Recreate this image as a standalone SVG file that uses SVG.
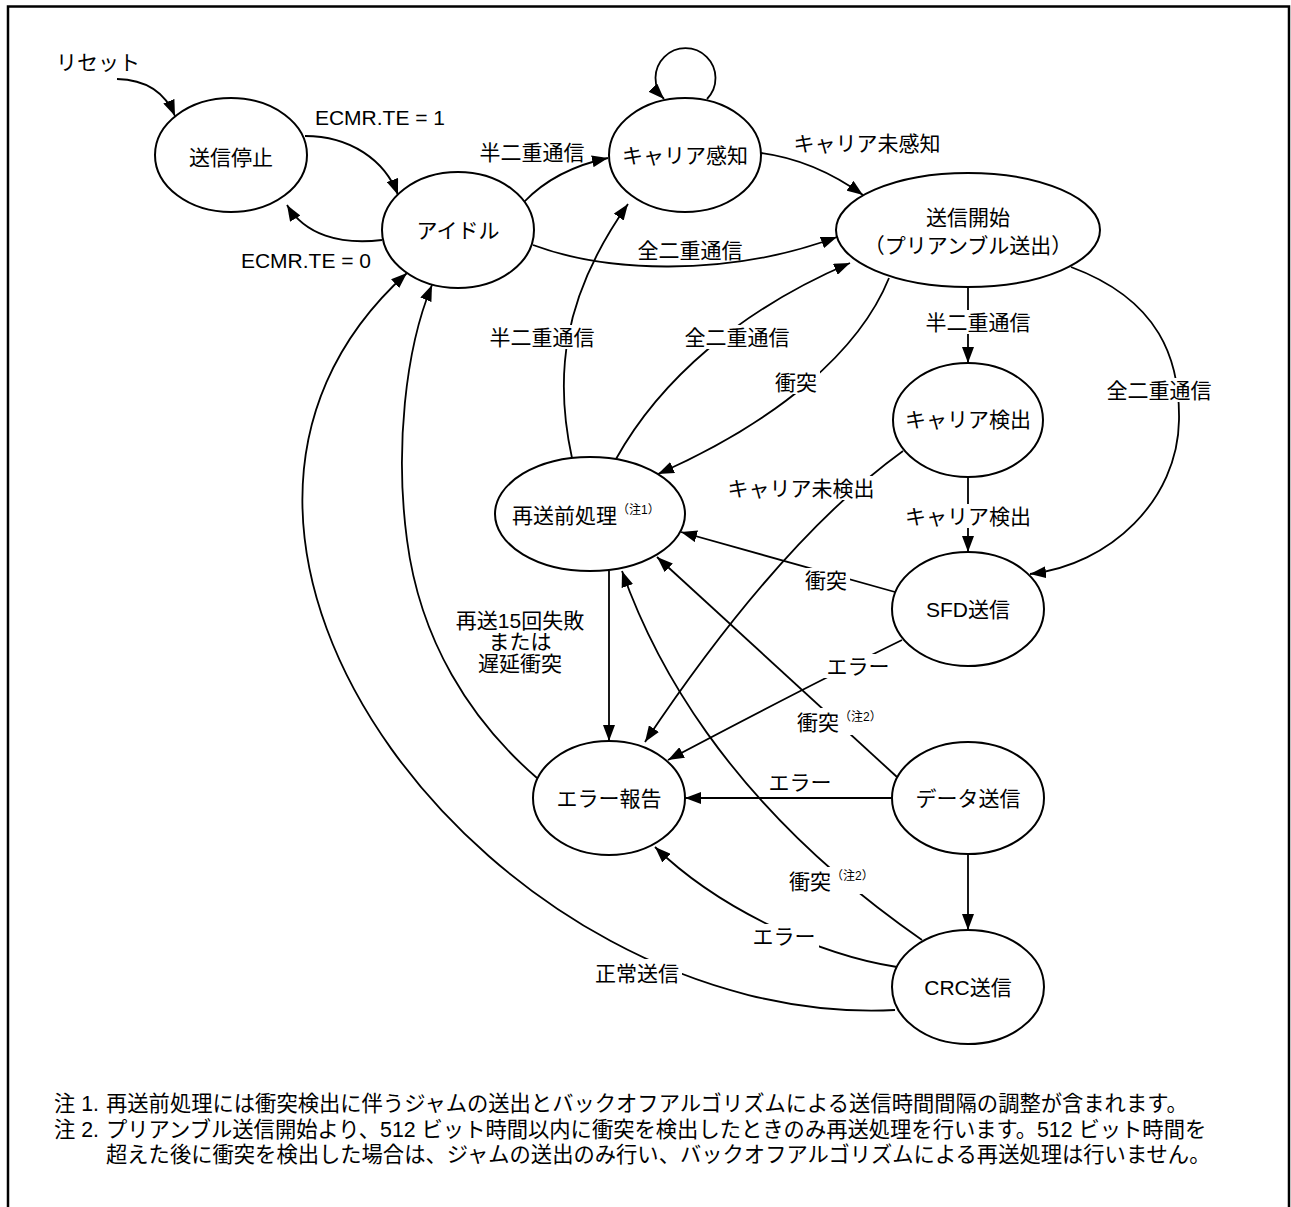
<svg xmlns="http://www.w3.org/2000/svg" width="1291" height="1207" viewBox="0 0 1291 1207">
<defs>
<style>
.t{font-family:'Liberation Sans','Noto Sans CJK JP',sans-serif;font-size:21px;fill:#000;text-anchor:middle;dominant-baseline:central}
.s{text-anchor:start}
.sm{font-size:12px}
.n{font-family:'Liberation Sans','Noto Sans CJK JP',sans-serif;font-size:21.3px;fill:#000;dominant-baseline:central}
.node{fill:#fff;stroke:#000;stroke-width:2}
.c{fill:none;stroke:#000;stroke-width:1.8}
.a{marker-end:url(#ah)}
.bg{fill:#fff}
</style>
<marker id="ah" viewBox="0 0 16 12" refX="16" refY="6" markerWidth="16" markerHeight="12" markerUnits="userSpaceOnUse" orient="auto"><path d="M0,0 L16,6 L0,12 z" fill="#000"/></marker>
</defs>
<rect width="1291" height="1207" fill="#fff"/>
<path d="M8,1207 V6.5 H1289 V1207" fill="none" stroke="#000" stroke-width="2.5"/>

<g id="connectors">
<path class="c a" d="M117,79 Q160,80 175,116"/>
<path class="c a" d="M305,136 C350,136 385,160 398,195"/>
<path class="c a" d="M382,240 C340,245 305,235 287,205"/>
<path class="c a" d="M524,202 C545,180 575,165 608,158"/>
<path class="c a" d="M707,99 A30,30 0 1 0 664,99"/>
<path class="c a" d="M761,153 C800,158 835,175 863,195"/>
<path class="c a" d="M533,245 C600,270 720,280 837,237"/>
<path class="c a" d="M572,458 C555,380 560,300 628,204"/>
<path class="c a" d="M616,459 C660,380 740,310 850,263"/>
<path class="c a" d="M889,278 C860,350 780,420 658,474"/>
<path class="c a" d="M968,287 V363"/>
<path class="c a" d="M1071,267 C1160,300 1180,360 1179,420 C1178,500 1110,565 1030,574"/>
<path class="c a" d="M968,477 V552"/>
<path class="c a" d="M903,451 Q780,540 645,742"/>
<path class="c a" d="M895,592 L681,532"/>
<path class="c a" d="M902,640 Q800,690 668,760"/>
<path class="c a" d="M609,571 V741"/>
<path class="c a" d="M897,777 L657,557"/>
<path class="c a" d="M892,798 H685"/>
<path class="c a" d="M968,854 V930"/>
<path class="c a" d="M922,940 C720,800 650,650 622,571"/>
<path class="c a" d="M897,967 C820,955 720,910 655,847"/>
<path class="c a" d="M895,1010 C500,1030 110,540 407,273"/>
<path class="c a" d="M537,778 C470,720 420,640 407,540 C395,450 405,350 432,285"/>

<g id="connector-labels">
<rect class="bg" x="922" y="310" width="112" height="24"/>
<rect class="bg" x="1103" y="378" width="112" height="24"/>
<rect class="bg" x="486" y="325" width="112" height="24"/>
<rect class="bg" x="681" y="325" width="112" height="24"/>
<rect class="bg" x="772" y="370" width="48" height="24"/>
<rect class="bg" x="724" y="476" width="154" height="24"/>
<rect class="bg" x="902" y="504" width="132" height="24"/>
<rect class="bg" x="802" y="568" width="48" height="24"/>
<rect class="bg" x="823" y="654" width="70" height="24"/>
<rect class="bg" x="794" y="708" width="92" height="27"/>
<rect class="bg" x="786" y="867" width="92" height="27"/>
<rect class="bg" x="749" y="924" width="70" height="24"/>
<rect class="bg" x="592" y="959" width="90" height="27"/>

<text class="t" x="98" y="62">リセット</text>
<text class="t" x="380" y="117">ECMR.TE = 1</text>
<text class="t" x="306" y="260">ECMR.TE = 0</text>
<text class="t" x="532" y="152">半二重通信</text>
<text class="t" x="867" y="143">キャリア未感知</text>
<text class="t" x="690" y="250">全二重通信</text>
<text class="t" x="978" y="322">半二重通信</text>
<text class="t" x="1159" y="390">全二重通信</text>
<text class="t" x="542" y="337">半二重通信</text>
<text class="t" x="737" y="337">全二重通信</text>
<text class="t" x="796" y="382">衝突</text>
<text class="t" x="801" y="488">キャリア未検出</text>
<text class="t" x="968" y="516">キャリア検出</text>
<text class="t" x="826" y="580">衝突</text>
<text class="t" x="858" y="666">エラー</text>
<text class="t s" x="797" y="722">衝突<tspan class="sm" dy="-5">（注2）</tspan></text>
<text class="t" x="800" y="782">エラー</text>
<text class="t s" x="789" y="881">衝突<tspan class="sm" dy="-5">（注2）</tspan></text>
<text class="t" x="784" y="936">エラー</text>
<text class="t" x="637" y="973">正常送信</text>
<text class="t" x="520" y="620">再送15回失敗</text>
<text class="t" x="520" y="641.5">または</text>
<text class="t" x="520" y="663">遅延衝突</text>
</g>
</g>

<g id="node-stop"><ellipse class="node" cx="231" cy="155" rx="76" ry="57"/><text class="t" x="231" y="157">送信停止</text></g>
<g id="node-idle"><ellipse class="node" cx="458" cy="230" rx="76" ry="58"/><text class="t" x="458" y="230">アイドル</text></g>
<g id="node-carrier-sense"><ellipse class="node" cx="685" cy="155" rx="76" ry="57"/><text class="t" x="685" y="155">キャリア感知</text></g>
<g id="node-tx-start"><ellipse class="node" cx="968" cy="230" rx="132" ry="57"/><text class="t" x="968" y="217">送信開始</text><text class="t" x="968" y="245">（プリアンブル送出）</text></g>
<g id="node-carrier-detect"><ellipse class="node" cx="968" cy="420" rx="75" ry="57"/><text class="t" x="968" y="419">キャリア検出</text></g>
<g id="node-retx-prep"><ellipse class="node" cx="590" cy="514" rx="95" ry="57"/><text class="t s" x="512" y="515">再送前処理<tspan class="sm" dy="-5">（注1）</tspan></text></g>
<g id="node-sfd"><ellipse class="node" cx="968" cy="609" rx="76" ry="57"/><text class="t" x="968" y="609">SFD送信</text></g>
<g id="node-error-report"><ellipse class="node" cx="609" cy="798" rx="76" ry="57"/><text class="t" x="609" y="798">エラー報告</text></g>
<g id="node-data"><ellipse class="node" cx="968" cy="798" rx="76" ry="56"/><text class="t" x="968" y="798">データ送信</text></g>
<g id="node-crc"><ellipse class="node" cx="968" cy="987" rx="76" ry="57"/><text class="t" x="968" y="987">CRC送信</text></g>

<g id="notes">
<text class="n" x="54" y="1104">注 1.</text>
<text class="n" x="106" y="1104">再送前処理には衝突検出に伴うジャムの送出とバックオフアルゴリズムによる送信時間間隔の調整が含まれます。</text>
<text class="n" x="54" y="1130">注 2.</text>
<text class="n" x="106" y="1130">プリアンブル送信開始より、512 ビット時間以内に衝突を検出したときのみ再送処理を行います。512 ビット時間を</text>
<text class="n" x="106" y="1155">超えた後に衝突を検出した場合は、ジャムの送出のみ行い、バックオフアルゴリズムによる再送処理は行いません。</text>
</g>
</svg>
